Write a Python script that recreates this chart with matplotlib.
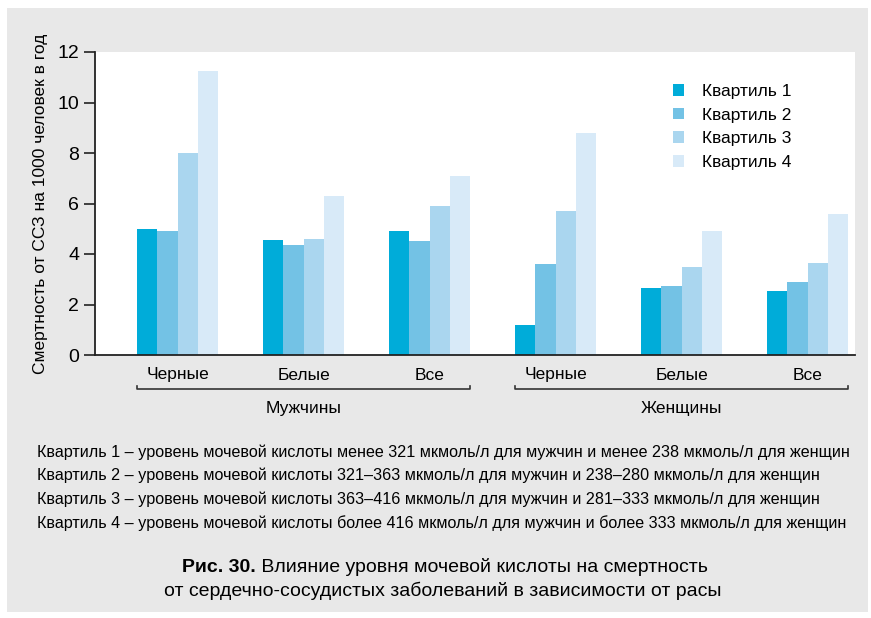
import numpy as np
import matplotlib.pyplot as plt
from matplotlib.patches import Rectangle
import matplotlib.transforms as mtransforms

plt.rcParams['font.family'] = ['Liberation Sans', 'DejaVu Sans']

# Данные (смертность от ССЗ на 1000 человек в год)
groups = ['Черные', 'Белые', 'Все', 'Черные', 'Белые', 'Все']
sexes = ['Мужчины', 'Женщины']
q1 = [5.0, 4.55, 4.9, 1.2, 2.65, 2.55]
q2 = [4.9, 4.35, 4.5, 3.6, 2.75, 2.9]
q3 = [8.0, 4.6, 5.9, 5.7, 3.5, 3.65]
q4 = [11.25, 6.3, 7.1, 8.8, 4.9, 5.6]
series = [q1, q2, q3, q4]
labels = ['Квартиль 1', 'Квартиль 2', 'Квартиль 3', 'Квартиль 4']
colors = ['#00acd9', '#73c2e5', '#aad6ef', '#d8eaf8']

notes = [
    'Квартиль 1 – уровень мочевой кислоты менее 321 мкмоль/л для мужчин и менее 238 мкмоль/л для женщин',
    'Квартиль 2 – уровень мочевой кислоты 321–363 мкмоль/л для мужчин и 238–280 мкмоль/л для женщин',
    'Квартиль 3 – уровень мочевой кислоты 363–416 мкмоль/л для мужчин и 281–333 мкмоль/л для женщин',
    'Квартиль 4 – уровень мочевой кислоты более 416 мкмоль/л для мужчин и более 333 мкмоль/л для женщин',
]
cap_bold = 'Рис. 30.'
cap_line1 = ' Влияние уровня мочевой кислоты на смертность'
cap_line2 = 'от сердечно-сосудистых заболеваний в зависимости от расы'

W, H = 871, 618
fig = plt.figure(figsize=(W / 100, H / 100), dpi=100, facecolor='white')

# серый фон
fig.patches.append(Rectangle((7 / W, 6 / H), 861 / W, 604 / H, transform=fig.transFigure,
                             facecolor='#e8e8e8', edgecolor='none', zorder=-5))

ax = fig.add_axes([95 / W, (H - 355) / H, 760 / W, 303 / H])
ax.set_facecolor('white')

x = np.arange(len(groups))
bw = 0.159
for i, (vals, c, lab) in enumerate(zip(series, colors, labels)):
    ax.bar(x + (i - 1.5) * bw, vals, width=bw, color=c, label=lab, zorder=2)

ax.set_xlim(-0.655, 5.377)
ax.set_ylim(0, 12)
ax.set_yticks(range(0, 13, 2))
ax.tick_params(axis='y', labelsize=14, length=8, width=1.2, direction='out', color='#222222')
ax.set_xticks(x)
ax.set_xticklabels(groups, fontsize=12.5)
ax.tick_params(axis='x', length=0, pad=9)
for s in ['top', 'right']:
    ax.spines[s].set_visible(False)
ax.spines['left'].set_linewidth(1.3)
ax.spines['bottom'].set_linewidth(1.3)
ax.spines['left'].set_color('#222222')
ax.spines['bottom'].set_color('#222222')
ax.set_ylabel('Смертность от ССЗ на 1000 человек в год', fontsize=12.5, labelpad=7)

# скобки для групп
tr = mtransforms.blended_transform_factory(ax.transData, ax.transAxes)
for k, sex in enumerate(sexes):
    x0 = 3 * k - 2 * bw
    x1 = 3 * k + 2 + 2 * bw
    ax.plot([x0, x0, x1, x1], [-0.101, -0.113, -0.113, -0.101], transform=tr,
            color='#333333', lw=1.2, clip_on=False)
    ax.text((x0 + x1) / 2, -0.175, sex, transform=tr, ha='center', va='center', fontsize=12.5)

leg = ax.legend(loc='upper left', bbox_to_anchor=(0.74, 0.946), frameon=False, fontsize=12.5,
                handlelength=0.65, handleheight=0.65, handletextpad=1.0, labelspacing=0.5)

# примечания
for j, t in enumerate(notes):
    fig.text(37 / W, 1 - (452 + 23.7 * j) / H, t, fontsize=11.65, ha='left', va='center')

# подпись
fig.canvas.draw()
r = fig.canvas.get_renderer()
y_cap = 1 - 567 / H
tb = fig.text(0.5, y_cap, cap_bold, fontsize=14, fontweight='bold', ha='left', va='center')
tr1 = fig.text(0.5, y_cap, cap_line1, fontsize=14, ha='left', va='center')
wb = tb.get_window_extent(r).width
w1 = tr1.get_window_extent(r).width
start = 445 - (wb + w1) / 2
tb.set_x(start / W)
tr1.set_x((start + wb) / W)
fig.text(443 / W, 1 - 591 / H, cap_line2, fontsize=14, ha='center', va='center')

fig.savefig('out.png', dpi=100)
